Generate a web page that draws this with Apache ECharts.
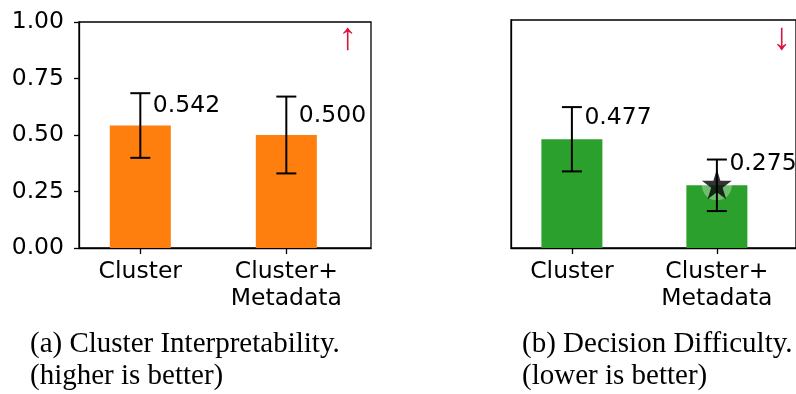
<!DOCTYPE html>
<html>
<head>
<meta charset="utf-8">
<script src="https://cdn.jsdelivr.net/npm/echarts@6/dist/echarts.min.js"></script>
<style>
  html, body { margin: 0; padding: 0; background: #fff; }
  #chart { width: 796px; height: 394px; }
</style>
</head>
<body>
<div id="chart"></div>
<script>
// Categories shared by both panels
const categories = ['Cluster', 'Cluster+\nMetadata'];

// (a) Cluster Interpretability: means and error half-widths
const interpMean = [0.542, 0.500];
const interpErr = [0.143, 0.170];

// (b) Decision Difficulty: means and error half-widths
const diffMean = [0.477, 0.275];
const diffErr = [0.141, 0.113];

// Index of the highlighted (starred) bar in panel (b)
const starredIndex = 1;

// Y tick values for panel (a)
const yTicks = [0, 0.25, 0.5, 0.75, 1.0];

const FONT = 'DejaVu Sans';
const SERIF = 'Liberation Serif';
const FS = 23.5;
const BAR_PX = 61;

// Five-point star path (matplotlib-like '*' marker)
function starPath() {
  const pts = [];
  const inner = 0.381966;
  for (let i = 0; i < 10; i++) {
    const r = i % 2 === 0 ? 1 : inner;
    const a = -Math.PI / 2 + i * Math.PI / 5;
    pts.push((r * Math.cos(a)).toFixed(4) + ' ' + (r * Math.sin(a)).toFixed(4));
  }
  return 'path://M' + pts.join(' L') + ' Z';
}

function barData(means) {
  return means.map((v, i) => [i, v]);
}
function errData(means, errs) {
  return means.map((v, i) => [i, v - errs[i], v + errs[i]]);
}

// Vertical error bar with caps at both ends
function errorRender(params, api) {
  const x = api.value(0);
  const lo = api.coord([x, api.value(1)]);
  const hi = api.coord([x, api.value(2)]);
  const cap = 10;
  const style = { stroke: '#000', lineWidth: 2, fill: null };
  return {
    type: 'group',
    children: [
      { type: 'line', shape: { x1: lo[0], y1: lo[1], x2: hi[0], y2: hi[1] }, style },
      { type: 'line', shape: { x1: hi[0] - cap, y1: hi[1], x2: hi[0] + cap, y2: hi[1] }, style },
      { type: 'line', shape: { x1: lo[0] - cap, y1: lo[1], x2: lo[0] + cap, y2: lo[1] }, style }
    ]
  };
}

function xAxis(gridIndex, max) {
  return {
    type: 'value', gridIndex, min: -0.42, max,
    axisLine: { show: true, onZero: false, lineStyle: { color: '#000', width: 1.3 } },
    axisTick: { show: true, customValues: [0, 1], length: 6, lineStyle: { color: '#000', width: 1.3 } },
    axisLabel: {
      customValues: [0, 1], fontFamily: FONT, fontSize: FS, color: '#000',
      lineHeight: 27, margin: 10,
      formatter: v => categories[Math.round(v)]
    },
    splitLine: { show: false }
  };
}

function labelCfg(dy) {
  return {
    show: true, position: [BAR_PX / 2 + 12.5, dy], align: 'left', verticalAlign: 'middle',
    fontFamily: FONT, fontSize: FS, color: '#000',
    formatter: p => p.value[1].toFixed(3)
  };
}

const chart = echarts.init(document.getElementById('chart'), null, { renderer: 'canvas' });

// Panel (b) runs past the right edge of the canvas; its visible part keeps the same scale as (a)
const PX_PER_UNIT = 146;
const rightWidth = 287;

chart.setOption({
  animation: false,
  backgroundColor: '#fff',
  grid: [
    { left: 79, top: 22, width: 292, height: 226, show: true, borderColor: '#000', borderWidth: 1.3, containLabel: false },
    { left: 511, top: 20, width: rightWidth, height: 228, show: true, borderColor: '#000', borderWidth: 1.3, containLabel: false }
  ],
  xAxis: [xAxis(0, 1.58), xAxis(1, -0.42 + rightWidth / PX_PER_UNIT)],
  yAxis: [
    {
      type: 'value', gridIndex: 0, min: yTicks[0], max: yTicks[yTicks.length - 1], interval: 0.25,
      axisLine: { show: true, onZero: false, lineStyle: { color: '#000', width: 1.3 } },
      axisTick: { show: true, length: 5, lineStyle: { color: '#000', width: 1.3 } },
      axisLabel: { fontFamily: FONT, fontSize: FS, color: '#000', margin: 15, formatter: v => v.toFixed(2) },
      splitLine: { show: false }
    },
    {
      type: 'value', gridIndex: 1, min: 0, max: 1,
      axisLine: { show: true, onZero: false, lineStyle: { color: '#000', width: 1.3 } },
      axisTick: { show: false }, axisLabel: { show: false }, splitLine: { show: false }
    }
  ],
  series: [
    {
      type: 'bar', xAxisIndex: 0, yAxisIndex: 0, barWidth: BAR_PX,
      itemStyle: { color: '#ff7f0e' }, data: barData(interpMean), label: labelCfg(-19.5)
    },
    {
      type: 'custom', xAxisIndex: 0, yAxisIndex: 0, renderItem: errorRender,
      data: errData(interpMean, interpErr), z: 5
    },
    {
      type: 'bar', xAxisIndex: 1, yAxisIndex: 1, barWidth: BAR_PX,
      itemStyle: { color: '#2ca02c' }, data: barData(diffMean), label: labelCfg(-21)
    },
    {
      type: 'scatter', xAxisIndex: 1, yAxisIndex: 1, symbol: 'circle', symbolSize: 30,
      itemStyle: { color: 'rgba(255,255,255,0.4)' },
      data: [[starredIndex, diffMean[starredIndex]]], z: 4, silent: true
    },
    {
      type: 'custom', xAxisIndex: 1, yAxisIndex: 1, renderItem: errorRender,
      data: errData(diffMean, diffErr), z: 5
    },
    {
      type: 'scatter', xAxisIndex: 1, yAxisIndex: 1, symbol: starPath(), symbolSize: 30,
      symbolOffset: [0, -1],
      itemStyle: { color: '#000' },
      data: [[starredIndex, diffMean[starredIndex]]], z: 6, silent: true
    }
  ],
  graphic: [
    { type: 'text', left: 338, top: 20, style: { text: '↑', fontFamily: 'Liberation Sans', fontSize: 38, fill: '#dc143c' } },
    { type: 'text', left: 772, top: 20, style: { text: '↓', fontFamily: 'Liberation Sans', fontSize: 38, fill: '#dc143c' } },
    { type: 'text', left: 30, top: 330, style: { text: '(a) Cluster Interpretability.', fontFamily: SERIF, fontSize: 29, fill: '#000' } },
    { type: 'text', left: 30, top: 362, style: { text: '(higher is better)', fontFamily: SERIF, fontSize: 29, fill: '#000' } },
    { type: 'text', left: 522, top: 330, style: { text: '(b) Decision Difficulty.', fontFamily: SERIF, fontSize: 29, fill: '#000' } },
    { type: 'text', left: 522, top: 362, style: { text: '(lower is better)', fontFamily: SERIF, fontSize: 29, fill: '#000' } }
  ]
});
</script>
</body>
</html>
